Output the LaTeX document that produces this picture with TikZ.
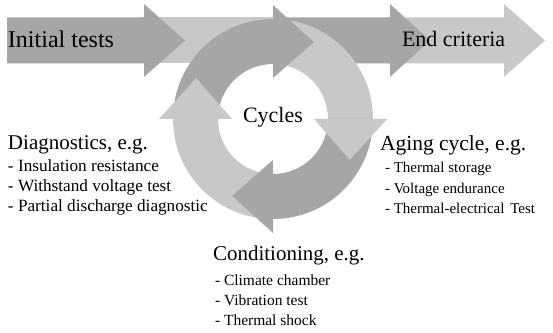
\documentclass[tikz,border=0pt]{standalone}
\usepackage{fontspec}
\setmainfont{Liberation Serif}
\usetikzlibrary{calc}
\definecolor{darkg}{RGB}{166,166,166}
\definecolor{lightg}{RGB}{200,200,200}
\newcommand\harrow[4]{%
  \fill[#4] (#1,268.5) -- (#2,268.5) -- (#2,255) -- (#3,291.5) -- (#2,328) -- (#2,314.5) -- (#1,314.5) -- cycle;}
\newcommand\ringbody[3]{%
  \fill[#3] ($(c)+(#1:100pt)$) arc[start angle=#1, end angle=#2, radius=100pt]
    -- ($(c)+(#2:55pt)$) arc[start angle=#2, end angle=#1, radius=55pt] -- cycle;}
\newcommand\ringhead[2]{%
  \fill[#2] ($(c)+(#1:41pt)$) -- ($(c)+(#1:114pt)$) -- ($(c)+({#1-28}:87pt)$) -- cycle;}
\tikzset{
  lbl/.style={anchor=base west, inner sep=0pt, outer sep=0pt},
  head/.style={lbl, font=\fontsize{21}{24}\selectfont},
  ditem/.style={lbl, font=\fontsize{17.2}{19}\selectfont},
  aitem/.style={lbl, font=\fontsize{15}{17}\selectfont},
  citem/.style={lbl, font=\fontsize{15.5}{17}\selectfont},
}
\begin{document}
\begin{tikzpicture}[x=1pt,y=1pt]
\useasboundingbox (0,0) rectangle (553,332);
% horizontal arrows
\harrow{386}{504}{545}{lightg}
\harrow{275}{390}{430}{darkg}
\fill[lightg] (140,268.5) rectangle (280,314.5);
\harrow{7}{144}{185}{darkg}
% ring
\coordinate (c) at (273,213);
\ringbody{180}{90}{darkg}
\ringbody{90}{0}{lightg}
\ringbody{0}{-90}{darkg}
\ringbody{-90}{-180}{lightg}
\ringhead{90}{darkg}
\ringhead{0}{lightg}
\ringhead{-90}{darkg}
\ringhead{180}{lightg}
% texts
\node[lbl, font=\fontsize{24}{27}\selectfont] (init) at (8,284) {Initial tests};
\node[lbl, font=\fontsize{22}{25}\selectfont] (endc) at (402,285) {End criteria};
\node[lbl, font=\fontsize{22}{25}\selectfont] (cyc) at (243,209) {Cycles};
\node[head] (diag) at (8,182) {Diagnostics, e.g.};
\node[ditem] (d1) at (8,160.3) {- Insulation resistance};
\node[ditem] (d2) at (8,140.3) {- Withstand voltage test};
\node[ditem] (d3) at (8,120.3) {- Partial discharge diagnostic};
\node[lbl, font=\fontsize{21.5}{24}\selectfont] (aging) at (380,181.3) {Aging cycle, e.g.};
\node[aitem] (a1) at (385,159) {- Thermal storage};
\node[aitem] (a2) at (385,139) {- Voltage endurance};
\node[aitem] (a3) at (385,119) {- Thermal-electrical\hspace{2pt} Test};
\node[head] (cond) at (213,72) {Conditioning, e.g.};
\node[citem] (c1) at (215,47) {- Climate chamber};
\node[citem] (c2) at (215,27) {- Vibration test};
\node[citem] (c3) at (215,7) {- Thermal shock};
\end{tikzpicture}
\end{document}
